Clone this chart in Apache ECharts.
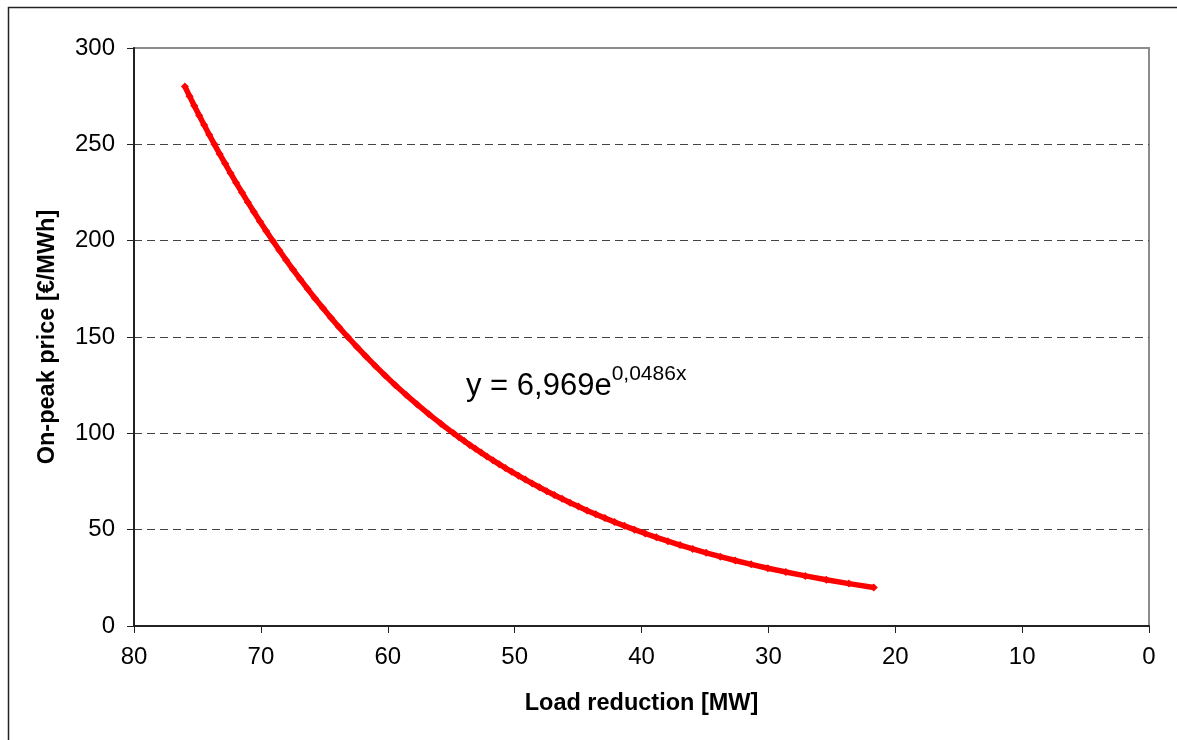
<!DOCTYPE html>
<html>
<head>
<meta charset="utf-8">
<script src="https://cdn.jsdelivr.net/npm/echarts@6/dist/echarts.min.js"></script>
<style>
html,body{margin:0;padding:0;background:#fff;}
#chart{width:1177px;height:740px;}
</style>
</head>
<body>
<div id="chart"></div>
<script>
// Load reduction [MW], for on-peak prices [€/MWh]
const price = [20,22,24,26,28,30,32,34,36,38,40,42,44,46,48,50,52,54,56,58,60,62,64,66,68,70,72,74,76,78,80,82,84,86,88,90,92,94,96,98,100,
  105,110,115,120,125,130,135,140,145,150,155,160,165,170,175,180,185,190,195,200,205,210,215,220,225,230,235,240,245,250,255,260,265,270,275,280];
const loadReduction = [21.69,23.65,25.44,27.09,28.62,30.04,31.36,32.61,33.79,34.90,35.96,36.96,37.92,38.83,39.71,40.55,41.35,42.13,42.88,43.60,44.30,44.97,45.63,46.26,46.87,47.47,48.05,48.61,49.16,49.70,50.22,50.73,51.22,51.71,52.18,52.64,53.09,53.54,53.97,54.39,54.81,
  55.81,56.77,57.68,58.56,59.40,60.21,60.98,61.73,62.45,63.15,63.83,64.48,65.11,65.73,66.32,66.90,67.47,68.02,68.55,69.07,69.58,70.07,70.56,71.03,71.49,71.95,72.39,72.82,73.25,73.66,74.07,74.47,74.86,75.25,75.62,75.99];
const xTicks = [0,10,20,30,40,50,60,70,80];
const yTicks = [0,50,100,150,200,250,300];
const equationMain = 'y = 6,969e';
const equationExp = '0,0486x';
const xTitle = 'Load reduction [MW]';
const yTitle = 'On-peak price [€/MWh]';

const chart = echarts.init(document.getElementById('chart'), null, {renderer:'canvas'});
const FONT = '"Liberation Sans", Arial, sans-serif';
const data = loadReduction.map((x,i)=>[x, price[i]]);
const gridColors = yTicks.map((v,i)=> (i===0 || i===yTicks.length-1) ? 'rgba(0,0,0,0)' : '#444');

chart.setOption({
  animation:false,
  backgroundColor:'#fff',
  grid:{left:134, top:48, right:28, bottom:114, show:true, borderColor:'#8c8c8c', borderWidth:2, backgroundColor:'transparent'},
  xAxis:{
    type:'value', inverse:true, min:xTicks[0], max:xTicks[xTicks.length-1], interval:10,
    name:xTitle, nameLocation:'middle', nameGap:66,
    nameTextStyle:{fontFamily:FONT, fontSize:23.5, fontWeight:'bold', color:'#000'},
    axisLine:{show:true, onZero:false, lineStyle:{color:'#222', width:2}},
    axisTick:{show:true, inside:false, length:7, lineStyle:{color:'#222', width:1}},
    axisLabel:{fontFamily:FONT, fontSize:24, color:'#000', margin:19},
    splitLine:{show:false}
  },
  yAxis:{
    type:'value', min:yTicks[0], max:yTicks[yTicks.length-1], interval:50,
    name:yTitle, nameLocation:'middle', nameGap:74, nameRotate:90,
    nameTextStyle:{fontFamily:FONT, fontSize:23.5, fontWeight:'bold', color:'#000'},
    axisLine:{show:true, onZero:false, lineStyle:{color:'#222', width:2}},
    axisTick:{show:true, inside:false, length:7, lineStyle:{color:'#222', width:1}},
    axisLabel:{fontFamily:FONT, fontSize:24, color:'#000', margin:19},
    splitLine:{show:true, lineStyle:{color:gridColors, width:1, type:[8,5]}}
  },
  series:[{
    type:'line', data:data, symbol:'diamond', symbolSize:8, showSymbol:true,
    lineStyle:{color:'#ff0000', width:5.5}, itemStyle:{color:'#ff0000'},
    z:5
  }],
  graphic:[
    {type:'rect', shape:{x:8.5, y:7.5, width:1300, height:900}, style:{fill:'none', stroke:'#222', lineWidth:1.5}, silent:true},
    {type:'text', left:466, top:364, style:{
      text:'{a|'+equationMain+'}{b|'+equationExp+'}',
      rich:{
        a:{fontFamily:FONT, fontSize:31, fill:'#000', lineHeight:38, verticalAlign:'bottom'},
        b:{fontFamily:FONT, fontSize:21, fill:'#000', lineHeight:22, verticalAlign:'top'}
      }
    }}
  ]
});
</script>
</body>
</html>
